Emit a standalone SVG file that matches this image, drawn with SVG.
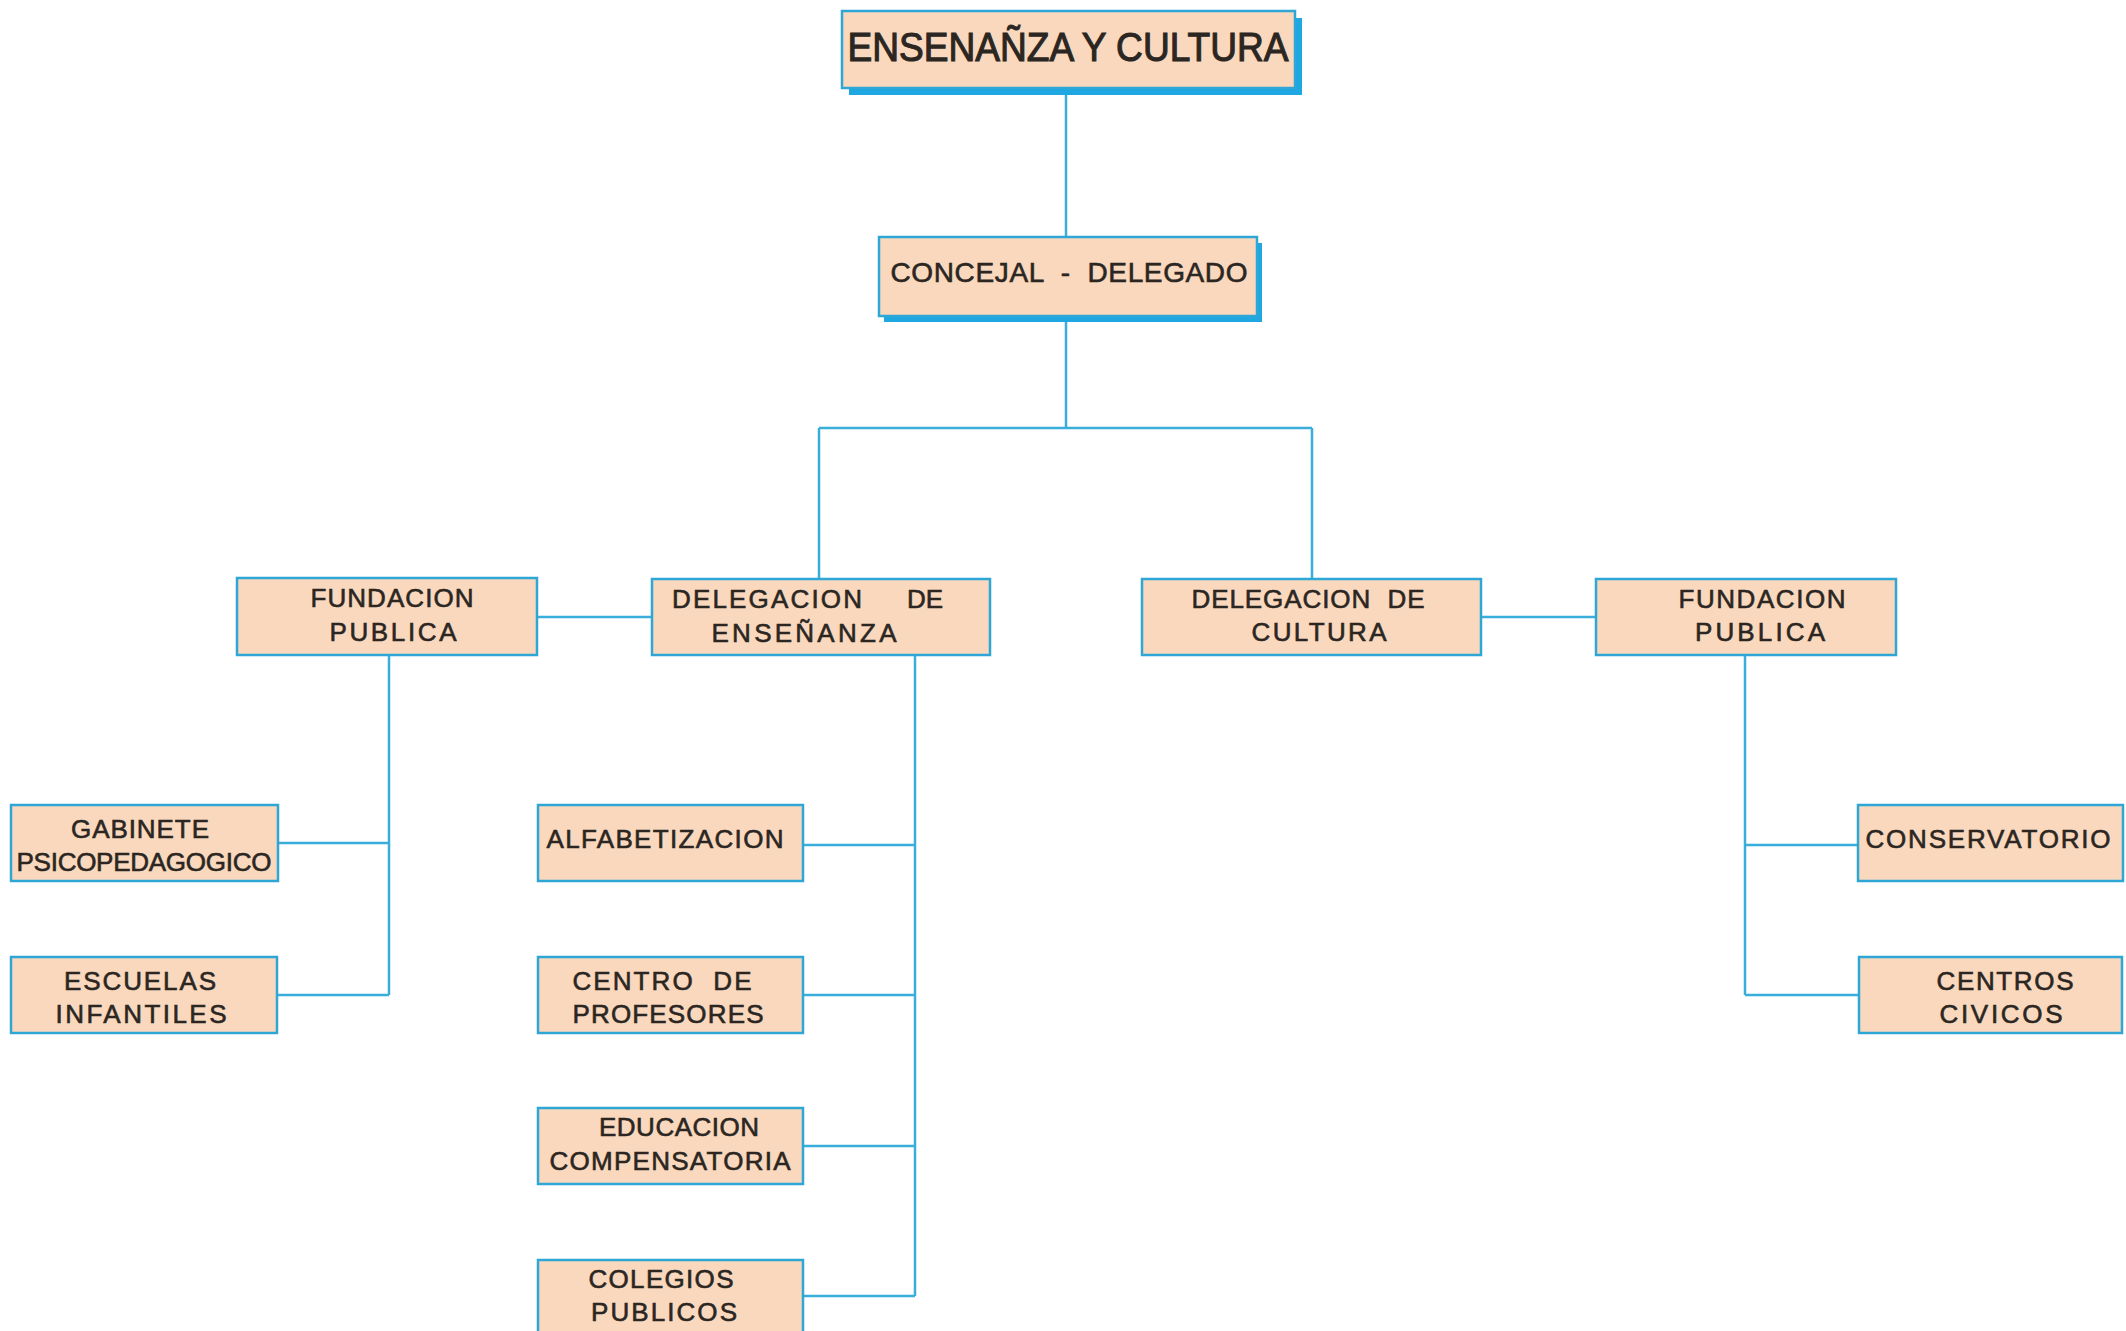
<svg xmlns="http://www.w3.org/2000/svg" width="2126" height="1331" viewBox="0 0 2126 1331">
<style>
.box{fill:#f9d8bd;stroke:#2ea6d6;stroke-width:2.5}
.sh{fill:#1ea7e1}
.t{font-family:"Liberation Sans",Arial,sans-serif;font-size:26px;fill:#2b2622;stroke:#2b2622;stroke-width:0.6;text-anchor:middle}
.big{font-size:40px;stroke-width:1.1}
.mid{font-size:28px;stroke-width:0.6}
.c{fill:none;stroke:#3aaedb;stroke-width:2.5}
</style>
<rect width="2126" height="1331" fill="#ffffff"/>
<g id="connectors">
<path class="c" d="M1066 88V237"/>
<path class="c" d="M1066 316V428M819 428H1312M819 428V579M1312 428V579"/>
<path class="c" d="M537 617H652M1481 617H1596"/>
<path class="c" d="M389 655V995M278 843H389M277 995H389"/>
<path class="c" d="M915 655V1296M803 845H915M803 995H915M803 1146H915M803 1296H915"/>
<path class="c" d="M1745 655V995M1745 845H1858M1745 995H1859"/>
</g>
<g id="n-top">
<rect class="sh" x="849" y="18" width="453" height="77"/>
<rect class="box" x="842" y="11" width="453" height="77"/>
<text class="t big" x="1068" y="61" textLength="441" lengthAdjust="spacingAndGlyphs">ENSENAÑZA Y CULTURA</text>
</g>
<g id="n-concejal">
<rect class="sh" x="884" y="243" width="378" height="79"/>
<rect class="box" x="879" y="237" width="378" height="79"/>
<text class="t mid" x="1069" y="282" textLength="357" lengthAdjust="spacing" xml:space="preserve">CONCEJAL  -  DELEGADO</text>
</g>
<g id="n-fund-l">
<rect class="box" x="237" y="578" width="300" height="77"/>
<text class="t" x="392" y="607" textLength="163" lengthAdjust="spacing">FUNDACION</text>
<text class="t" x="393" y="641" textLength="127" lengthAdjust="spacing">PUBLICA</text>
</g>
<g id="n-del-ens">
<rect class="box" x="652" y="579" width="338" height="76"/>
<text class="t" x="767" y="608" textLength="190" lengthAdjust="spacing">DELEGACION</text>
<text class="t" x="925" y="608" textLength="36" lengthAdjust="spacing">DE</text>
<text class="t" x="804" y="642" textLength="185" lengthAdjust="spacing">ENSEÑANZA</text>
</g>
<g id="n-del-cul">
<rect class="box" x="1142" y="579" width="339" height="76"/>
<text class="t" x="1308" y="608" textLength="233" lengthAdjust="spacing" xml:space="preserve">DELEGACION  DE</text>
<text class="t" x="1319" y="641" textLength="135" lengthAdjust="spacing">CULTURA</text>
</g>
<g id="n-fund-r">
<rect class="box" x="1596" y="579" width="300" height="76"/>
<text class="t" x="1762" y="608" textLength="167" lengthAdjust="spacing">FUNDACION</text>
<text class="t" x="1760" y="641" textLength="130" lengthAdjust="spacing">PUBLICA</text>
</g>
<g id="n-gabinete">
<rect class="box" x="11" y="805" width="267" height="76"/>
<text class="t" x="140" y="838" textLength="138" lengthAdjust="spacing">GABINETE</text>
<text class="t" x="144" y="871" textLength="255" lengthAdjust="spacing">PSICOPEDAGOGICO</text>
</g>
<g id="n-escuelas">
<rect class="box" x="11" y="957" width="266" height="76"/>
<text class="t" x="140" y="990" textLength="152" lengthAdjust="spacing">ESCUELAS</text>
<text class="t" x="141" y="1023" textLength="171" lengthAdjust="spacing">INFANTILES</text>
</g>
<g id="n-alfa">
<rect class="box" x="538" y="805" width="265" height="76"/>
<text class="t" x="665" y="848" textLength="237" lengthAdjust="spacing">ALFABETIZACION</text>
</g>
<g id="n-centro">
<rect class="box" x="538" y="957" width="265" height="76"/>
<text class="t" x="662" y="990" textLength="179" lengthAdjust="spacing" xml:space="preserve">CENTRO  DE</text>
<text class="t" x="668" y="1023" textLength="191" lengthAdjust="spacing">PROFESORES</text>
</g>
<g id="n-educacion">
<rect class="box" x="538" y="1108" width="265" height="76"/>
<text class="t" x="679" y="1136" textLength="160" lengthAdjust="spacing">EDUCACION</text>
<text class="t" x="670" y="1170" textLength="241" lengthAdjust="spacing">COMPENSATORIA</text>
</g>
<g id="n-colegios">
<rect class="box" x="538" y="1260" width="265" height="80"/>
<text class="t" x="661" y="1288" textLength="145" lengthAdjust="spacing">COLEGIOS</text>
<text class="t" x="664" y="1321" textLength="146" lengthAdjust="spacing">PUBLICOS</text>
</g>
<g id="n-conserv">
<rect class="box" x="1858" y="805" width="265" height="76"/>
<text class="t" x="1988" y="848" textLength="245" lengthAdjust="spacing">CONSERVATORIO</text>
</g>
<g id="n-civicos">
<rect class="box" x="1859" y="957" width="263" height="76"/>
<text class="t" x="2005" y="990" textLength="137" lengthAdjust="spacing">CENTROS</text>
<text class="t" x="2001" y="1023" textLength="123" lengthAdjust="spacing">CIVICOS</text>
</g>
</svg>
